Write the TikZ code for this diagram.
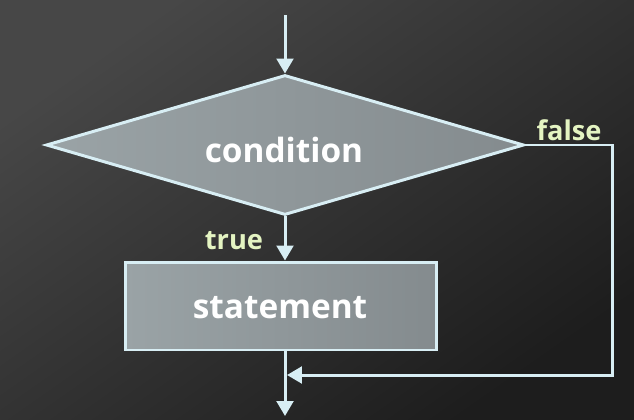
\documentclass[tikz,border=0pt]{standalone}
\usepackage{fontspec}
\setmainfont{Open Sans}
\usetikzlibrary{arrows.meta,shapes.geometric,positioning}
\definecolor{bgtop}{HTML}{474747}
\definecolor{bgbottom}{HTML}{1D1D1D}
\definecolor{edge}{HTML}{D8EEF4}
\definecolor{fillleft}{HTML}{9AA3A6}
\definecolor{fillright}{HTML}{848B8E}
\definecolor{branch}{HTML}{E4F4C2}
\tikzset{
  decision/.style={
    % The shape:
    diamond, aspect=3.41,
    % The size:
    minimum width=9.56cm, minimum height=2.8cm, inner sep=0pt,
    % The border:
    line width=1.7pt, draw=edge,
    % The filling:
    left color=fillleft, right color=fillright},
  process/.style={
    % The shape:
    rectangle,
    % The size:
    minimum width=6.24cm, minimum height=1.76cm,
    % The rest
    line width=1.7pt, draw=edge,
    left color=fillleft, right color=fillright},
  caption/.style={
    text=white, inner sep=0pt,
    font=\bfseries\fontsize{19}{22}\selectfont},
  branchlabel/.style={
    text=branch, inner sep=0pt,
    font=\bfseries\fontsize{15.5}{18}\selectfont},
  flow/.style={line width=1.7pt, draw=edge,
    -{Triangle[width=9.5pt,length=8.5pt]}}
}

\begin{document}
\begin{tikzpicture}[x=0.02cm,y=-0.02cm]
  % background
  \useasboundingbox (0,0) rectangle (634,419);
  \shade[top color=bgtop, bottom color=bgbottom, shading angle=35]
    (0,0) rectangle (634,419);

  \node (cond) [decision] at (285,145) {};
  \node (stmt) [process]  at (281,306) {};
  \node (condtext) [caption] at (284,150) {condition};
  \node (stmttext) [caption] at (280,308) {statement};

  \coordinate (start) at (285,15);
  \coordinate (stop)  at (285,416);
  \coordinate (back)  at (612,375);
  \coordinate (join)  at (287,375);

  \draw[flow] (start) -- (cond.north);
  \draw[flow] (cond.south) -- (cond.south |- stmt.north);
  \draw[flow] (cond.south |- stmt.south) -- (stop);
  \draw[flow] (cond.east) -| (back) -- (join);

  \node[branchlabel] (false) at (569,130) {false};
  \node[branchlabel] (true)  at (234,241) {true};
\end{tikzpicture}
\end{document}
